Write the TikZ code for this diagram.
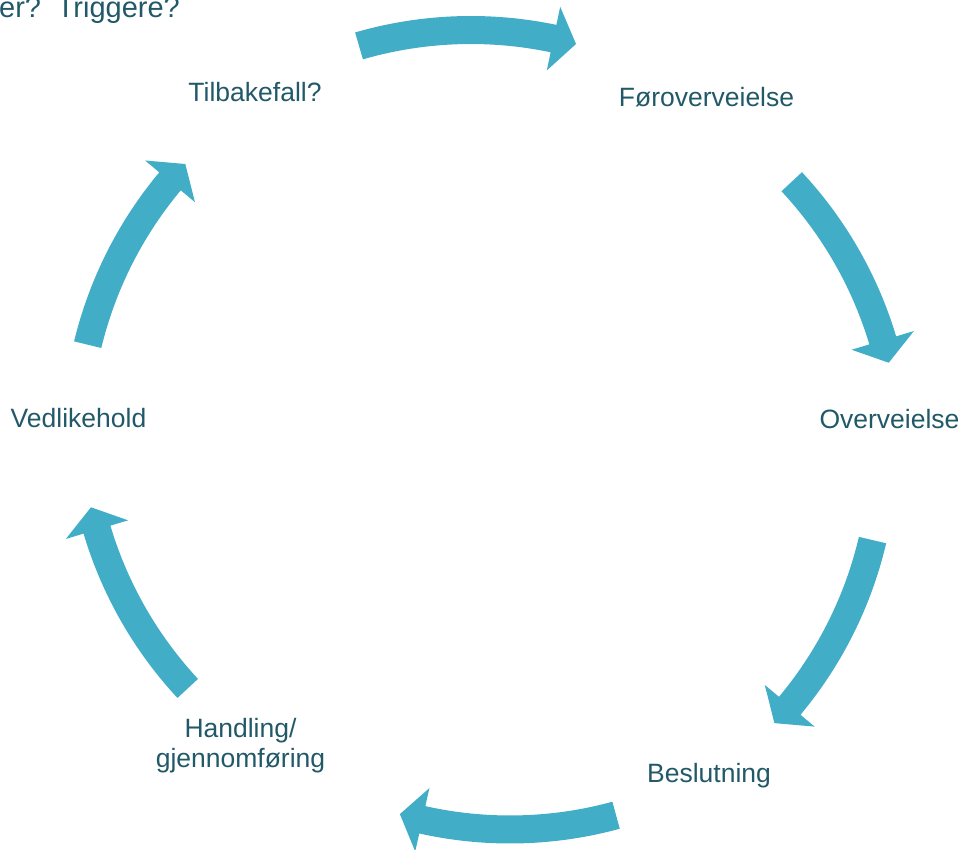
\documentclass[tikz,border=0pt]{standalone}
\usepackage{fontspec}
\setmainfont{Liberation Sans}
\definecolor{cyclearrow}{RGB}{66,173,199}
\definecolor{cycletext}{RGB}{33,89,104}
\begin{document}
\begin{tikzpicture}
   [
     x                 = 1pt,
     y                 = 1pt,
     every node/.style = {font=\fontsize{26.5}{30}\selectfont,
     text=cycletext, inner sep=0pt},
     stage/.style      = {anchor=base},
     turn/.style       = {fill=cyclearrow, draw=none}
   ]
    \useasboundingbox (0,0) rectangle (963,849);
    \foreach \n/\cx/\cy/\p/\h
      [evaluate=\p as \ta using \p+\h,
       evaluate=\p as \tb using \p-\h+3.3,
       evaluate=\p as \tc using \p-\h]
      in {1/470.9/417/90.5/15.66, 2/497.7/393.1/28.2/14.8,
          3/481.2/400.9/-28.2/14.97, 4/510/421.5/-90.3/15.6,
          5/482.2/434.2/208.1/14.8, 6/478.4/409.8/151.6/14.8}
    {
      \coordinate (c\n) at (\cx,\cy);
      \fill [turn] ([shift={(\ta:416)}]c\n)
        arc [start angle=\ta, end angle=\tb, radius=416]
        -- ([shift={(\tb:434.5)}]c\n)
        -- ([shift={(\tc:402)}]c\n)
        -- ([shift={(\tb:369.5)}]c\n)
        -- ([shift={(\tb:388)}]c\n)
        arc [start angle=\tb, end angle=\ta, radius=388]
        -- cycle;
    }
    \node [stage] (relapse)     at (255,747)   {Tilbakefall?};
    \node [stage] (precontempl) at (706.5,742) {Føroverveielse};
    \node [stage] (contempl)    at (889.5,420) {Overveielse};
    \node [stage] (decision)    at (709,67)    {Beslutning};
    \node [anchor=north, align=center] (action) at (240.5,131)
      {Handling/\\gjennomføring};
    \node [stage] (maintenance) at (78.5,421)  {Vedlikehold};
    \node [anchor=base west, font=\fontsize{29}{33}\selectfont]
      (triggers) at (-1,831) {er?\hspace{5pt} Triggere?};
\end{tikzpicture}
\end{document}
